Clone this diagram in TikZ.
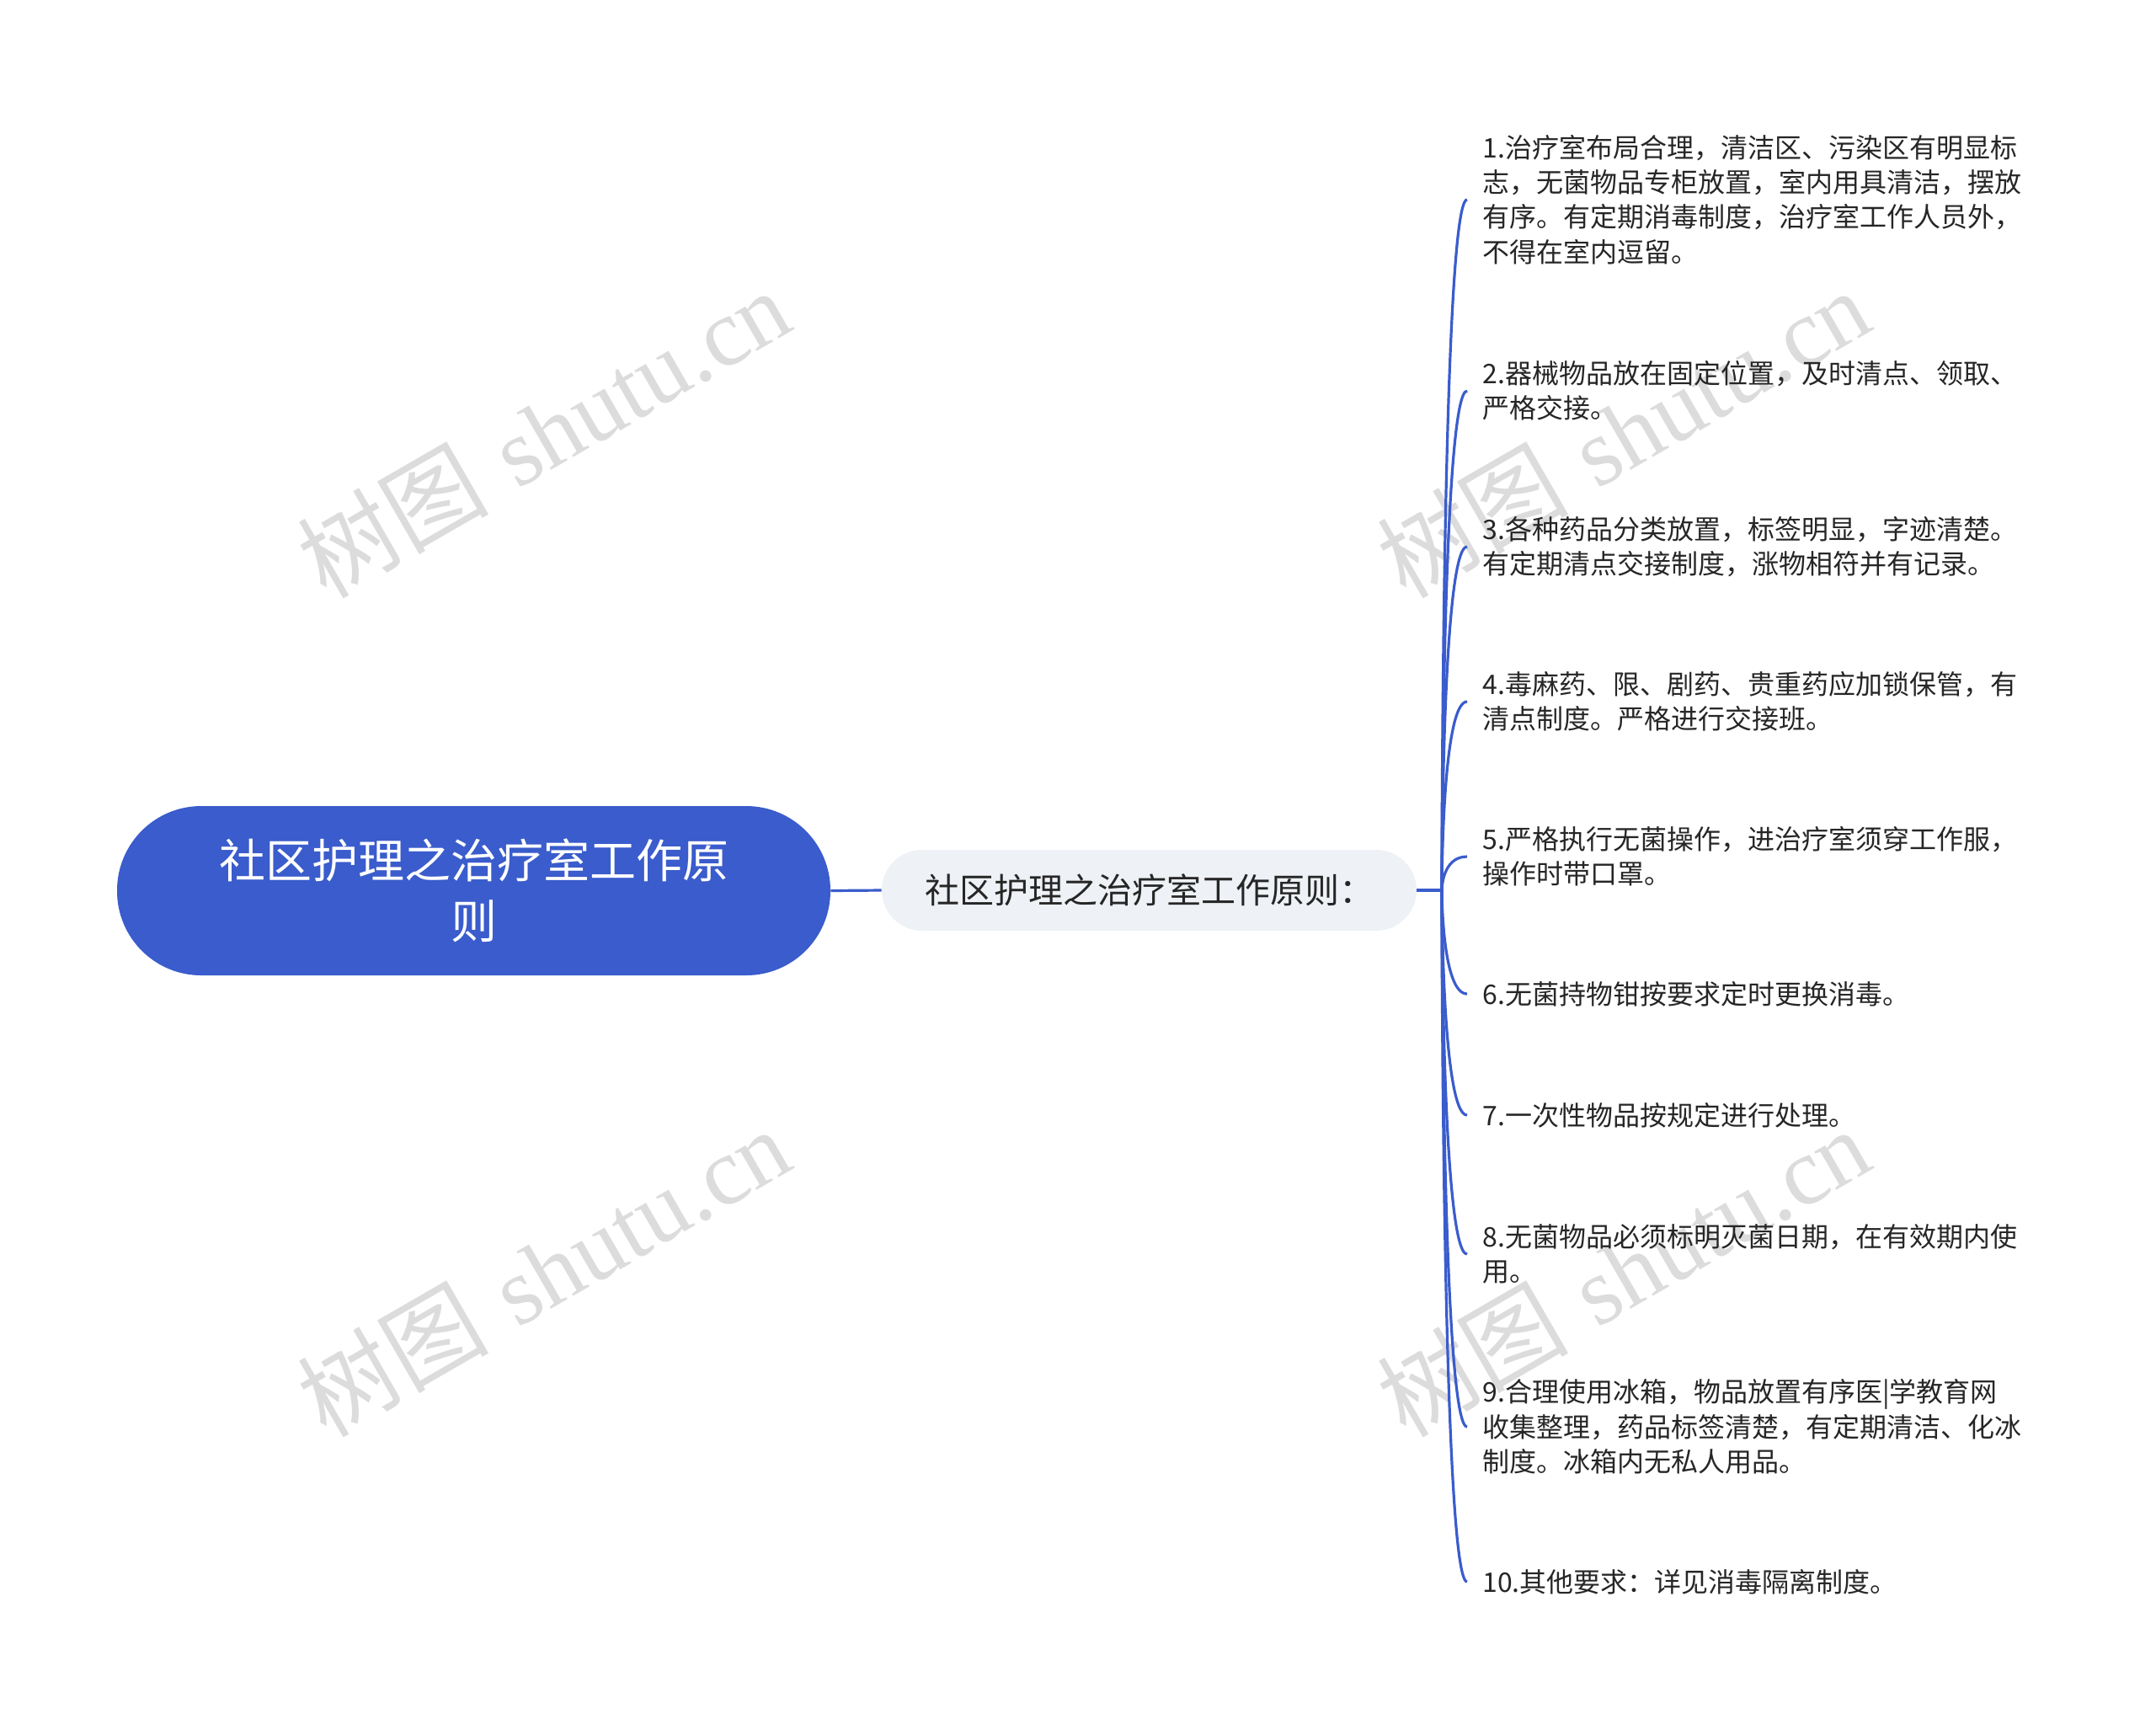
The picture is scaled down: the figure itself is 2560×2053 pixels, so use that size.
\documentclass[tikz,border=0pt]{standalone}
\usepackage{fontspec}
\newfontfamily\cjk{Noto Sans CJK SC}
\newfontfamily\wmlatin{Liberation Serif}
\definecolor{mainblue}{HTML}{3A5CCC}
\definecolor{midfill}{HTML}{EEF1F5}
\definecolor{leaftext}{HTML}{262626}
\definecolor{wmgray}{HTML}{DCDCDC}
\begin{document}
\begin{tikzpicture}[x=0.5pt,y=-0.5pt,
  rootbox/.style={fill=mainblue, text=white, rounded corners=50pt, minimum width=423.5pt, minimum height=100.5pt, align=center, inner sep=0pt, font=\cjk\fontsize{27.5pt}{36pt}\selectfont},
  midbox/.style={fill=midfill, text=leaftext, rounded corners=24pt, minimum width=317.5pt, minimum height=48pt, inner sep=0pt, font=\cjk\fontsize{20.5pt}{26pt}\selectfont},
  leafbox/.style={anchor=west, text=leaftext, align=left, inner xsep=9pt, inner ysep=2pt, font=\cjk\fontsize{16pt}{20.65pt}\selectfont},
  conn/.style={draw=mainblue, line width=1.6pt},
  wmark/.style={text=wmgray, rotate=30, font=\fontsize{57pt}{60pt}\selectfont}
]
\useasboundingbox[fill=white] (0,0) rectangle (2560,2053);

% watermarks
\node[wmark] (w1) at (645,514) {{\cjk 树图} {\wmlatin shutu.cn}};
\node[wmark] (w2) at (645,1510) {{\cjk 树图} {\wmlatin shutu.cn}};
\node[wmark] (w3) at (1927,514) {{\cjk 树图} {\wmlatin shutu.cn}};
\node[wmark] (w4) at (1927,1510) {{\cjk 树图} {\wmlatin shutu.cn}};

% main nodes
\node[rootbox] (root) at (562.5,1057.5) {社区护理之治疗室工作原\\则};
\node[midbox] (mid) at (1364.5,1057) {社区护理之治疗室工作原则：};
\coordinate (hub) at (1712,1057);

% leaves
\node[leafbox] (l1) at (1742,237) {1.治疗室布局合理，清洁区、污染区有明显标\\志，无菌物品专柜放置，室内用具清洁，摆放\\有序。有定期消毒制度，治疗室工作人员外，\\不得在室内逗留。};
\node[leafbox] (l2) at (1742,464) {2.器械物品放在固定位置，及时清点、领取、\\严格交接。};
\node[leafbox] (l3) at (1742,649) {3.各种药品分类放置，标签明显，字迹清楚。\\有定期清点交接制度，涨物相符并有记录。};
\node[leafbox] (l4) at (1742,833) {4.毒麻药、限、剧药、贵重药应加锁保管，有\\清点制度。严格进行交接班。};
\node[leafbox] (l5) at (1742,1017) {5.严格执行无菌操作，进治疗室须穿工作服，\\操作时带口罩。};
\node[leafbox] (l6) at (1742,1180) {6.无菌持物钳按要求定时更换消毒。};
\node[leafbox] (l7) at (1742,1324) {7.一次性物品按规定进行处理。};
\node[leafbox] (l8) at (1742,1489) {8.无菌物品必须标明灭菌日期，在有效期内使\\用。};
\node[leafbox] (l9) at (1742,1694) {9.合理使用冰箱，物品放置有序医|学教育网\\收集整理，药品标签清楚，有定期清洁、化冰\\制度。冰箱内无私人用品。};
\node[leafbox] (l10) at (1742,1878) {10.其他要求：详见消毒隔离制度。};

% connectors
\draw[conn] (root.east) -- (mid.west);
\draw[conn] (mid.east) -- (hub);
\foreach \n in {l1,l2,l3,l4,l5,l6,l7,l8,l9,l10}{
  \draw[conn] (hub) .. controls (hub) and (hub |- \n.west) .. (\n.west);
}
\end{tikzpicture}
\end{document}
